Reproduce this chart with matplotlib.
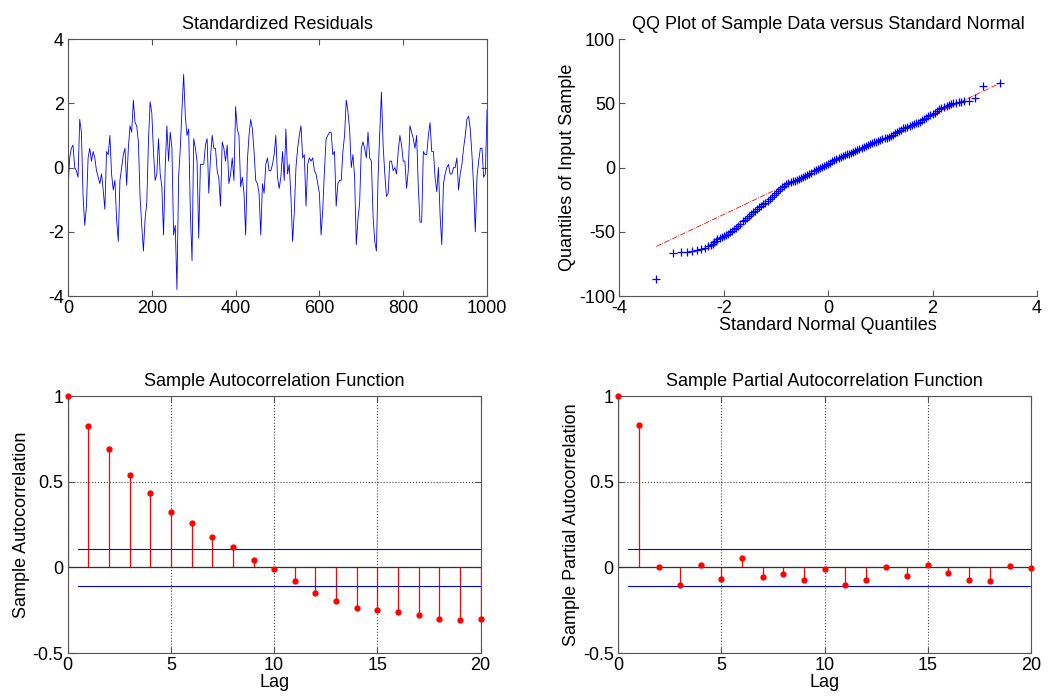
import numpy as np
import matplotlib
matplotlib.use('Agg')
import matplotlib.pyplot as plt

plt.rcParams['font.family'] = ['Liberation Sans', 'DejaVu Sans']
plt.rcParams['font.size'] = 13
plt.rcParams['axes.unicode_minus'] = False

# Standardized residuals, read every 4 steps (t = 0..1000)
resid = [
    -0.7, 0.3, 0.6, 0.7, 0.0, -0.1, -0.3, 1.5, 1.1, -0.9, -1.8, -1.2, 0.3, 0.6,
    0.2, 0.5, 0.3, -0.1, -0.3, -0.5, -0.2, -0.7, -1.3, 0.5, 0.4, 1.0, -0.2, -0.7,
    -0.4, -1.6, -2.3, -0.4, 0.0, 0.4, 0.6, -0.55, 0.6, 1.3, 1.1, 2.1, 1.4, 1.3,
    0.8, -0.9, -1.8, -2.6, -1.6, -1.1, 0.8, 2.05, 1.7, 0.5, -0.4, -0.2, 0.9, -0.2,
    -0.6, -2.1, 0.0, 1.3, 0.2, 1.1, 0.6, -2.1, -1.8, -3.8, -0.3, 0.6, 1.8, 2.9,
    1.6, 1.0, 1.2, -1.4, -2.9, 0.9, 0.6, 0.2, -2.2, 0.1, 0.1, 0.1, 0.7, 0.9,
    -0.8, 0.3, 1.0, 0.6, 0.6, -0.1, -0.35, -1.2, 0.8, 0.6, 0.2, 0.7, -0.5, -0.2,
    0.3, -0.4, 1.9, 1.2, 1.0, -0.6, -0.3, -0.8, -2.1, 0.2, 1.0, 1.5, 1.2, 0.5,
    -0.4, -0.5, -0.8, -2.1, -0.5, -0.8, 0.1, 0.3, -0.1, -0.1, 0.1, 0.4, 1.0,
    -0.3, -0.65, -0.3, 0.5, -0.4, 1.2, -0.2, 0.1, -0.9, -2.3, -1.4, 0.0, 0.6,
    1.0, 1.3, 0.3, 0.4, -1.2, 0.1, 0.3, 0.2, 0.3, -0.1, -0.2, -0.5, -0.8, -2.1,
    -1.3, -0.1, 0.9, 1.0, 1.1, 1.1, 0.4, 0.5, -1.2, -0.5, -0.4, -0.4, 0.5, 1.0,
    2.1, 1.75, 1.2, 0.0, 0.4, -0.3, -2.4, -1.6, -1.1, 0.6, 0.8, 0.6, 0.3, 1.1,
    0.3, 0.2, -1.5, -2.3, -2.6, -0.3, 1.1, 2.35, 0.7, -0.2, -0.9, -0.8, 0.2, 0.2,
    -0.1, 0.0, -0.2, 0.5, 1.0, 0.7, 0.2, 0.2, -0.65, -0.1, 1.3, 1.1, 0.9, 0.6,
    1.0, -0.6, -1.7, -1.7, 0.5, 0.4, 0.4, 1.0, 1.4, 0.5, 0.5, -0.3, -0.75, 0.0,
    -1.5, -2.4, -0.5, -0.2, 0.0, 0.1, -0.2, -0.2, 0.0, 0.0, 0.3, -0.7, -0.2, 0.1,
    0.6, 1.0, 1.5, 1.6, 1.2, 0.4, -0.6, -2.0, -0.3, 0.2, 0.6, 0.6, -0.3, -0.2, 1.8,
]
step = 4

# QQ plot: standard normal quantiles vs sample quantiles
qq_x = [
    -3.29, -2.97, -2.82, -2.71, -2.60, -2.52, -2.44, -2.36, -2.30, -2.25, -2.21,
    -2.18, -2.15, -2.12, -2.08, -2.04, -2.00, -1.96, -1.92, -1.88, -1.84, -1.80,
    -1.76, -1.72, -1.68, -1.64, -1.60, -1.56, -1.52, -1.48, -1.44, -1.40, -1.36,
    -1.32, -1.28, -1.24, -1.20, -1.16, -1.12, -1.08, -1.04, -1.00, -0.96, -0.92,
    -0.88, -0.84, -0.80, -0.76, -0.72, -0.68, -0.64, -0.60, -0.56, -0.52, -0.48,
    -0.44, -0.40, -0.36, -0.32, -0.28, -0.24, -0.20, -0.16, -0.12, -0.08, -0.04,
    0.00, 0.04, 0.08, 0.12, 0.16, 0.20, 0.24, 0.28, 0.32, 0.36, 0.40, 0.44, 0.48,
    0.52, 0.56, 0.60, 0.64, 0.68, 0.72, 0.76, 0.80, 0.84, 0.88, 0.92, 0.96, 1.00,
    1.04, 1.08, 1.12, 1.16, 1.20, 1.24, 1.28, 1.32, 1.36, 1.40, 1.44, 1.48, 1.52,
    1.56, 1.60, 1.64, 1.68, 1.72, 1.76, 1.80, 1.84, 1.88, 1.92, 1.96, 2.00, 2.04,
    2.08, 2.12, 2.17, 2.22, 2.27, 2.31, 2.35, 2.40, 2.45, 2.50, 2.55, 2.61, 2.70,
    2.82, 2.97, 3.29,
]
qq_y = [
    -87.0, -66.6, -66.0, -65.5, -64.7, -63.9, -63.1, -62.3, -61.3, -60.4, -59.4,
    -58.0, -56.8, -55.6, -54.8, -54.0, -53.2, -52.4, -51.5, -50.5, -49.3, -48.2,
    -46.8, -45.3, -43.6, -41.9, -40.5, -39.0, -37.6, -36.0, -34.8, -33.5, -32.2,
    -31.0, -29.8, -28.7, -27.4, -25.8, -24.4, -22.8, -21.2, -19.7, -18.2, -16.8,
    -15.4, -14.2, -13.1, -12.1, -11.3, -10.7, -10.1, -9.4, -8.7, -8.0, -7.2,
    -6.4, -5.6, -4.7, -3.9, -3.0, -2.1, -1.2, -0.4, 0.5, 1.3, 2.2,
    3.0, 3.9, 4.8, 5.7, 6.5, 7.3, 8.1, 8.8, 9.5, 10.2, 10.9, 11.6, 12.4,
    13.2, 14.0, 14.8, 15.6, 16.3, 17.0, 17.6, 18.2, 18.8, 19.5, 20.1, 20.8, 21.5,
    22.2, 22.9, 23.3, 23.6, 24.4, 25.4, 26.6, 27.8, 28.8, 29.6, 30.4, 31.1, 31.8,
    32.5, 33.0, 33.6, 34.3, 35.0, 35.8, 36.7, 37.7, 38.7, 39.8, 40.7, 41.6, 42.8,
    44.2, 45.2, 46.0, 47.0, 47.8, 48.8, 49.6, 50.2, 50.5, 50.8, 51.2, 51.6, 51.7,
    54.0, 63.6, 65.5,
]
ref_slope = 19.3
ref_intercept = 2.1

# ACF / PACF
lags = list(range(21))
acf = [1.0, 0.827, 0.689, 0.540, 0.437, 0.324, 0.258, 0.180, 0.120, 0.044,
       -0.012, -0.082, -0.150, -0.199, -0.236, -0.251, -0.263, -0.279, -0.304,
       -0.306, -0.300]
pacf = [1.0, 0.831, 0.0, -0.100, 0.015, -0.065, 0.054, -0.057, -0.036, -0.072,
        -0.012, -0.100, -0.076, 0.0, -0.053, 0.011, -0.032, -0.071, -0.082,
        0.009, -0.006]
conf_bound = 0.106

spine_col = '#555555'

fig = plt.figure(figsize=(10.59, 7.0), dpi=100)


def style_box(ax, box=True):
    for s in ax.spines.values():
        s.set_color(spine_col)
        s.set_linewidth(0.8)
    if not box:
        ax.spines['top'].set_visible(False)
        ax.spines['right'].set_visible(False)
    ax.tick_params(direction='in', length=4, color=spine_col,
                   top=box, right=box, labelsize=13, pad=3)


# Standardized residuals
ax1 = fig.add_axes([0.0642, 0.5771, 0.3957, 0.3671])
t = np.arange(len(resid)) * step
ax1.plot(t, resid, color='b', lw=0.6)
ax1.set_xlim(0, 1000)
ax1.set_ylim(-4, 4)
ax1.set_xticks([0, 200, 400, 600, 800, 1000])
ax1.set_yticks([-4, -2, 0, 2, 4])
ax1.set_title('Standardized Residuals', fontsize=13, pad=7)
style_box(ax1)

# QQ plot
ax2 = fig.add_axes([0.5848, 0.5771, 0.3944, 0.3671])
xr = np.array([min(qq_x), max(qq_x)])
ax2.plot(xr, ref_slope * xr + ref_intercept, color='r', lw=0.6, ls='-.')
ax2.plot(qq_x, qq_y, ls='none', marker='+', color='b', ms=6, mew=0.9)
ax2.set_xlim(-4, 4)
ax2.set_ylim(-100, 100)
ax2.set_xticks([-4, -2, 0, 2, 4])
ax2.set_yticks([-100, -50, 0, 50, 100])
ax2.set_xlabel('Standard Normal Quantiles', labelpad=0)
ax2.set_ylabel('Quantiles of Input Sample', labelpad=2)
ax2.set_title('QQ Plot of Sample Data versus Standard Normal', fontsize=13, pad=7)
style_box(ax2, box=False)


def corr_plot(ax, vals, title, ylabel):
    ax.grid(True, ls=':', color='#444444', lw=0.8)
    ax.set_axisbelow(True)
    ax.vlines(lags, 0, vals, color='r', lw=0.9)
    ax.plot(lags, vals, ls='none', marker='o', color='r', ms=3.5, clip_on=False,
            zorder=5)
    ax.axhline(0, color='#333333', lw=0.9)
    ax.plot([0.5, 20], [conf_bound, conf_bound], color='b', lw=0.8)
    ax.plot([0.5, 20], [-conf_bound, -conf_bound], color='b', lw=0.8)
    ax.set_xlim(0, 20)
    ax.set_ylim(-0.5, 1)
    ax.set_xticks([0, 5, 10, 15, 20])
    ax.set_yticks([-0.5, 0, 0.5, 1])
    ax.set_yticklabels(['-0.5', '0', '0.5', '1'])
    ax.set_xlabel('Lag', labelpad=0)
    ax.set_ylabel(ylabel, labelpad=2)
    ax.set_title(title, fontsize=13, pad=7)
    style_box(ax)


ax3 = fig.add_axes([0.0639, 0.0671, 0.3900, 0.3671])
corr_plot(ax3, acf, 'Sample Autocorrelation Function', 'Sample Autocorrelation')

ax4 = fig.add_axes([0.5836, 0.0671, 0.3900, 0.3671])
corr_plot(ax4, pacf, 'Sample Partial Autocorrelation Function',
          'Sample Partial Autocorrelation')

fig.savefig('out.png', dpi=100)
